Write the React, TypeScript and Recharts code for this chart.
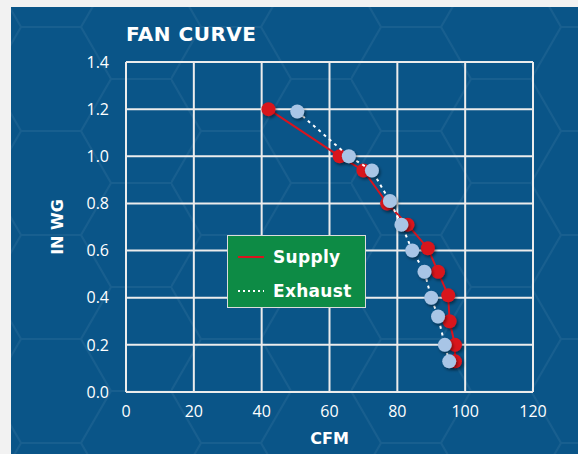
import { ScatterChart, Scatter, XAxis, YAxis, CartesianGrid, Label } from 'recharts'

const xTicks = [0, 20, 40, 60, 80, 100, 120]
const yTicks = [0, 0.2, 0.4, 0.6, 0.8, 1.0, 1.2, 1.4]

const supplyCfm = [42, 63, 70, 77, 83, 89, 92, 95, 95.4, 97, 97]
const supplyInWg = [1.2, 1.0, 0.94, 0.8, 0.71, 0.61, 0.51, 0.41, 0.3, 0.2, 0.13]
const exhaustCfm = [50.5, 65.7, 72.5, 77.8, 81.2, 84.4, 88, 90, 92, 94, 95.3]
const exhaustInWg = [1.19, 1.0, 0.94, 0.81, 0.71, 0.6, 0.51, 0.4, 0.32, 0.2, 0.13]

const seriesNames = ['Supply', 'Exhaust']

const supply = supplyCfm.map((x, i) => ({ x, y: supplyInWg[i] }))
const exhaust = exhaustCfm.map((x, i) => ({ x, y: exhaustInWg[i] }))

const BLUE = '#0a5588'
const RED = '#d8141e'
const LIGHT = '#a8c5e6'
const GRID = '#ececec'
const BOLD = '"DejaVu Sans", sans-serif'
const REG = '"Open Sans", sans-serif'

// faint hexagon texture behind the panel
const hexSvg =
  "<svg xmlns='http://www.w3.org/2000/svg' width='180' height='104'>" +
  "<path d='M0 52 L30 0 L90 0 L120 52 L90 104 L30 104 Z M120 52 L180 52' fill='none' stroke='white' stroke-opacity='0.06' stroke-width='2'/></svg>"
const hexBg = `url("data:image/svg+xml;utf8,${encodeURIComponent(hexSvg)}")`

function RedDot(p: any) {
  return <circle cx={p.cx} cy={p.cy} r={7} fill={RED} filter="url(#dotShadow)" />
}

function BlueDot(p: any) {
  return <circle cx={p.cx} cy={p.cy} r={7} fill={LIGHT} filter="url(#dotShadow)" />
}

function YTitle({ viewBox }: any) {
  const cx = 46
  const cy = viewBox.y + viewBox.height / 2
  return (
    <text
      x={cx}
      y={cy}
      transform={`rotate(-90, ${cx}, ${cy})`}
      textAnchor="middle"
      dominantBaseline="central"
      fill="#fff"
      fontFamily={BOLD}
      fontWeight={700}
      fontSize={16}
    >
      IN WG
    </text>
  )
}

export default function App() {
  return (
    <div style={{ position: 'absolute', left: 0, top: 0, width: 578, height: 454, background: '#f2f2f2', overflow: 'hidden' }}>
      <svg width={0} height={0} style={{ position: 'absolute' }}>
        <defs>
          <filter id="dotShadow" x="-50%" y="-50%" width="200%" height="200%">
            <feDropShadow dx={1.5} dy={2} stdDeviation={1.5} floodColor="#000" floodOpacity={0.45} />
          </filter>
        </defs>
      </svg>
      <div
        style={{
          position: 'absolute',
          left: 11,
          top: 7,
          width: 567,
          height: 447,
          backgroundColor: BLUE,
          backgroundImage: hexBg,
          backgroundPosition: '-20px 20px',
        }}
      >
        <div
          style={{
            position: 'absolute',
            left: 115,
            top: 15,
            color: '#fff',
            fontFamily: BOLD,
            fontWeight: 700,
            fontSize: 20,
            letterSpacing: 0.5,
          }}
        >
          FAN CURVE
        </div>
        <ScatterChart width={567} height={447} margin={{ top: 55, right: 45, left: 0, bottom: 0 }}>
          <CartesianGrid stroke={GRID} strokeWidth={2} />
          <XAxis
            type="number"
            dataKey="x"
            domain={[0, 120]}
            ticks={xTicks}
            height={62}
            tickSize={0}
            tickMargin={14}
            axisLine={{ stroke: GRID, strokeWidth: 2 }}
            tickLine={false}
            tick={{ fill: '#fff', fontSize: 16, fontFamily: REG }}
          >
            <Label
              value="CFM"
              position="insideBottom"
              offset={10}
              fill="#fff"
              fontFamily={BOLD}
              fontWeight={700}
              fontSize={16}
            />
          </XAxis>
          <YAxis
            type="number"
            dataKey="y"
            domain={[0, 1.4]}
            ticks={yTicks}
            width={115}
            tickSize={0}
            tickMargin={17}
            axisLine={{ stroke: GRID, strokeWidth: 2 }}
            tickLine={false}
            tickFormatter={(v: number) => v.toFixed(1)}
            tick={{ fill: '#fff', fontSize: 16, fontFamily: REG }}
          >
            <Label content={YTitle} />
          </YAxis>
          <Scatter
            name={seriesNames[0]}
            data={supply}
            line={{ stroke: RED, strokeWidth: 2 }}
            lineType="joint"
            shape={RedDot}
            isAnimationActive={false}
          />
          <Scatter
            name={seriesNames[1]}
            data={exhaust}
            line={{ stroke: '#fff', strokeWidth: 2, strokeDasharray: '3 4' }}
            lineType="joint"
            shape={BlueDot}
            isAnimationActive={false}
          />
        </ScatterChart>
        <div
          style={{
            position: 'absolute',
            left: 216,
            top: 228,
            width: 139,
            height: 73,
            boxSizing: 'border-box',
            background: '#0d8b45',
            border: '1.5px solid #dcdcdc',
            fontFamily: BOLD,
            fontWeight: 700,
            fontSize: 17,
            color: '#fff',
          }}
        >
          {seriesNames.map((name, i) => (
            <div key={name} style={{ position: 'absolute', left: 10, top: i === 0 ? 9 : 43, display: 'flex', alignItems: 'center', height: 24 }}>
              <svg width={26} height={4} style={{ marginRight: 9 }}>
                <line
                  x1={0}
                  y1={2}
                  x2={26}
                  y2={2}
                  stroke={i === 0 ? RED : '#fff'}
                  strokeWidth={2}
                  strokeDasharray={i === 0 ? undefined : '2 3'}
                />
              </svg>
              <span style={{ letterSpacing: 0.3 }}>{name}</span>
            </div>
          ))}
        </div>
      </div>
    </div>
  )
}
